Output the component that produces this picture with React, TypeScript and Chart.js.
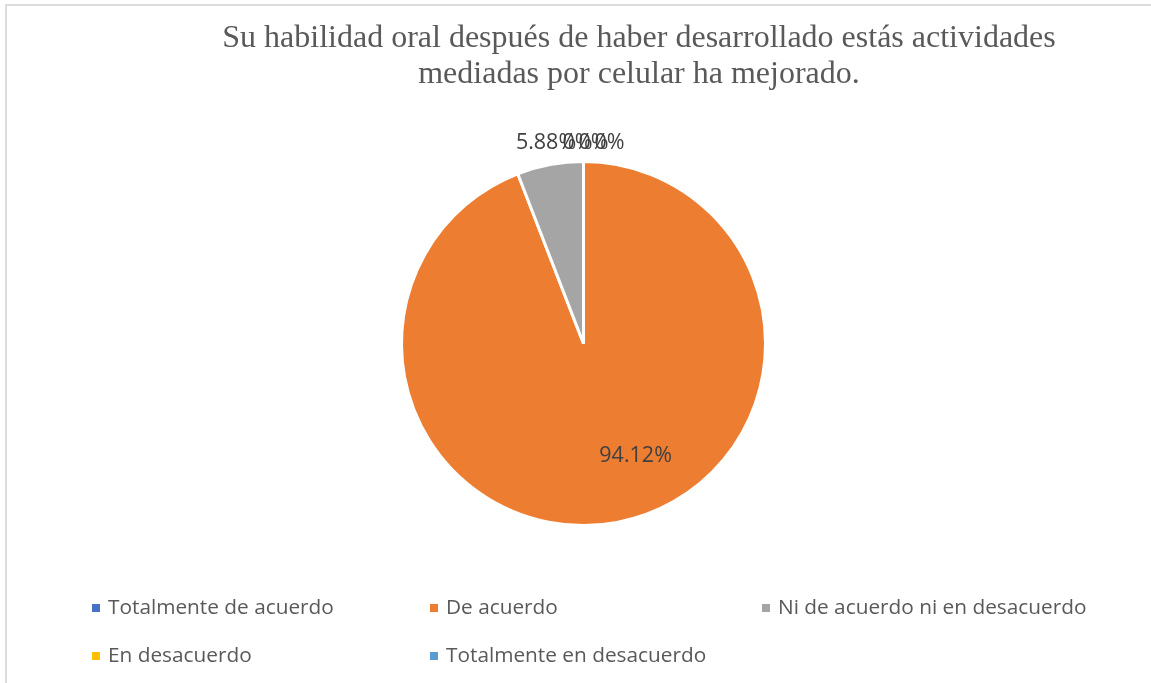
import React, { useEffect, useRef } from "react";
import { Chart, registerables } from "chart.js";

Chart.register(...registerables);

const titleLines = [
  "Su habilidad oral después de haber desarrollado estás actividades",
  "mediadas por celular ha mejorado.",
];
const categories = [
  "Totalmente de acuerdo",
  "De acuerdo",
  "Ni de acuerdo ni en desacuerdo",
  "En desacuerdo",
  "Totalmente en desacuerdo",
];
const values = [0, 94.12, 5.88, 0, 0];
const colors = ["#4472C4", "#ED7D31", "#A5A5A5", "#FFC000", "#5B9BD5"];

const W = 1151;
const H = 683;
const SANS = "'Open Sans', 'Noto Sans', sans-serif";
const SERIF = "'Liberation Serif', 'DejaVu Serif', serif";

const fmt = (v: number) => (v === 0 ? "0%" : v.toFixed(2) + "%");

const titlePlugin = {
  id: "excelTitle",
  afterDraw(chart: any) {
    const ctx = chart.ctx;
    ctx.save();
    ctx.fillStyle = "#595959";
    ctx.font = `32px ${SERIF}`;
    ctx.textAlign = "center";
    ctx.textBaseline = "alphabetic";
    titleLines.forEach((l, i) => ctx.fillText(l, 639, 47 + i * 36));
    ctx.restore();
  },
};

const legendPlugin = {
  id: "excelLegend",
  afterDraw(chart: any) {
    const ctx = chart.ctx;
    const labels = chart.data.labels as string[];
    const bg = chart.data.datasets[0].backgroundColor as string[];
    const colX = [92, 430, 762];
    const rowY = [608, 656];
    ctx.save();
    ctx.font = `20.8px ${SANS}`;
    ctx.textBaseline = "middle";
    ctx.textAlign = "left";
    labels.forEach((lab, i) => {
      const x = colX[i % 3];
      const y = rowY[Math.floor(i / 3)];
      ctx.fillStyle = bg[i];
      ctx.fillRect(x, y - 4, 8, 8);
      ctx.fillStyle = "#595959";
      ctx.fillText(lab, x + 16, y);
    });
    ctx.restore();
  },
};

const labelPlugin = {
  id: "excelLabels",
  afterDatasetsDraw(chart: any) {
    const ctx = chart.ctx;
    const meta = chart.getDatasetMeta(0);
    const data = chart.data.datasets[0].data as number[];
    ctx.save();
    ctx.font = `21.5px ${SANS}`;
    ctx.fillStyle = "#404040";
    ctx.textBaseline = "middle";
    let zeroIdx = 0;
    meta.data.forEach((el: any, i: number) => {
      const p = el.getProps(["x", "y", "startAngle", "endAngle", "outerRadius"], true);
      const mid = (p.startAngle + p.endAngle) / 2;
      const v = data[i];
      const txt = fmt(v);
      if (v >= 50) {
        const r = p.outerRadius * 0.68;
        const ang = mid - 0.25;
        ctx.textAlign = "center";
        ctx.fillText(txt, p.x + Math.cos(ang) * r, p.y + Math.sin(ang) * r);
      } else if (v === 0) {
        const r = p.outerRadius + 19;
        ctx.textAlign = "left";
        ctx.fillText(
          txt,
          p.x + Math.cos(mid) * r - 21 + zeroIdx * 16,
          p.y + Math.sin(mid) * r
        );
        zeroIdx++;
      } else {
        const r = p.outerRadius + 22;
        ctx.textAlign = "center";
        ctx.fillText(txt, p.x + Math.cos(mid) * r, p.y + Math.sin(mid) * r);
      }
    });
    ctx.restore();
  },
};

export default function App() {
  const ref = useRef<HTMLCanvasElement | null>(null);
  useEffect(() => {
    if (!ref.current) return;
    const chart = new Chart(ref.current, {
      type: "pie",
      data: {
        labels: categories,
        datasets: [
          {
            data: values,
            backgroundColor: colors,
            borderColor: "#ffffff",
            borderWidth: 3,
          },
        ],
      },
      options: {
        responsive: false,
        animation: false,
        devicePixelRatio: 1,
        layout: { padding: { left: 400, right: 384, top: 160, bottom: 156 } },
        plugins: {
          legend: { display: false },
          title: { display: false },
          tooltip: { enabled: false },
        },
      },
      plugins: [titlePlugin, legendPlugin, labelPlugin],
    });
    return () => chart.destroy();
  }, []);
  return (
    <div
      style={{
        position: "fixed",
        left: 0,
        top: 0,
        width: W,
        height: H,
        background: "#fff",
        overflow: "hidden",
      }}
    >
      <div
        style={{
          position: "absolute",
          left: 5,
          top: 4,
          width: W + 20,
          height: H + 20,
          borderTop: "2px solid #dcdcdc",
          borderLeft: "2px solid #dcdcdc",
        }}
      />
      <canvas
        ref={ref}
        width={W}
        height={H}
        style={{ position: "absolute", left: 0, top: 0, width: W, height: H }}
      />
    </div>
  );
}
